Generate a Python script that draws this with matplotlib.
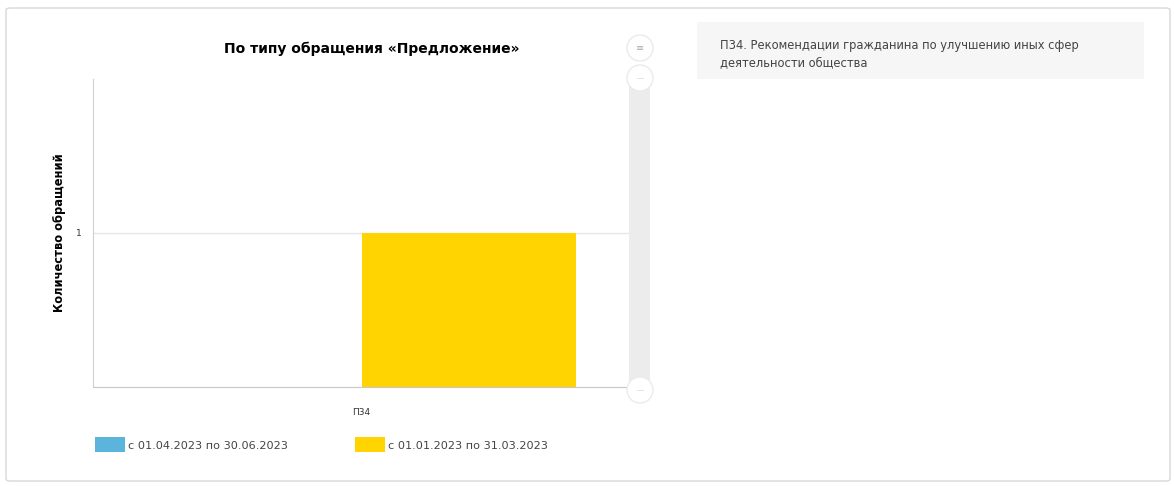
import matplotlib.pyplot as plt
from matplotlib.patches import Rectangle, Circle, FancyBboxPatch

# ── Data ──────────────────────────────────────────────────────────────────────
categories = ["П34"]
series_names = ["с 01.04.2023 по 30.06.2023", "с 01.01.2023 по 31.03.2023"]
series_values = [[0], [1]]
series_colors = ["#5AB4DC", "#FFD400"]
y_ticks = [1]
title = "По типу обращения «Предложение»"
y_label = "Количество обращений"
info_text = ("П34. Рекомендации гражданина по улучшению иных сфер\n"
             "деятельности общества")

W, H = 1174, 486
fig = plt.figure(figsize=(W / 100, H / 100), dpi=100)
fig.patch.set_facecolor("white")


def fx(px):
    return px / W


def fy(py):
    return 1 - py / H


# outer panel border
fig.patches.append(FancyBboxPatch((fx(6), fy(481)), fx(1164), (473) / H,
                                  boxstyle="round,pad=0,rounding_size=0.004",
                                  transform=fig.transFigure, fill=False,
                                  edgecolor="#d8d8d8", linewidth=1.0))

# ── Chart ─────────────────────────────────────────────────────────────────────
ax = fig.add_axes([fx(93), fy(387), fx(630 - 93), (387 - 79) / H])
width = 0.4
for i, (name, vals, col) in enumerate(zip(series_names, series_values, series_colors)):
    offset = (i - 1) * width
    ax.bar([k + offset for k in range(len(categories))], vals, width=width,
           align="edge", color=col, label=name, zorder=2)

ax.set_xlim(-0.5, len(categories) - 0.5)
ax.set_ylim(0, 2)
ax.set_yticks(y_ticks)
ax.set_yticklabels([str(t) for t in y_ticks], fontsize=6.5, color="#333333")
ax.set_xticks(range(len(categories)))
ax.set_xticklabels(categories, fontsize=6.5, color="#333333")
ax.tick_params(axis="both", length=0, pad=8)
ax.tick_params(axis="x", pad=15)
ax.grid(axis="y", color="#e6e6e6", linewidth=1, zorder=0)
for side in ["top", "right"]:
    ax.spines[side].set_visible(False)
ax.spines["left"].set_color("#d0d0d0")
ax.spines["bottom"].set_color("#c8c8c8")
ax.set_ylabel(y_label, fontsize=8.3, fontweight="bold", labelpad=7)
ax.set_title(title, fontsize=10, fontweight="bold", pad=19, x=0.52)

# scrollbar
fig.patches.append(Rectangle((fx(629), fy(390)), fx(21), (390 - 70) / H,
                             transform=fig.transFigure, facecolor="#ececec",
                             edgecolor="none"))
for cy in [48, 78, 390]:
    fig.patches.append(Circle((640 / 100, (H - cy) / 100), 0.13,
                              transform=fig.dpi_scale_trans,
                              facecolor="white", edgecolor="#ebebeb", linewidth=1))
fig.text(fx(640), fy(48), "≡", fontsize=7, color="#aaaaaa", ha="center", va="center")
fig.text(fx(640), fy(78), "—", fontsize=5, color="#c4c4c4", ha="center", va="center")
fig.text(fx(640), fy(390), "—", fontsize=5, color="#c4c4c4", ha="center", va="center")

# legend
legend_x = [95, 355]
for x0, name, col in zip(legend_x, series_names, series_colors):
    fig.patches.append(Rectangle((fx(x0), fy(452)), fx(30), 15 / H,
                                 transform=fig.transFigure, facecolor=col,
                                 edgecolor="none"))
    fig.text(fx(x0 + 33), fy(446), name, fontsize=8.1, color="#444444",
             va="center", ha="left")

# info box on the right
fig.patches.append(Rectangle((fx(697), fy(79)), fx(447), 57 / H,
                             transform=fig.transFigure, facecolor="#f6f6f6",
                             edgecolor="none"))
fig.text(fx(720), fy(54), info_text, fontsize=8.3, color="#444444",
         va="center", ha="left", linespacing=1.45)

fig.savefig("out.png", dpi=100)
